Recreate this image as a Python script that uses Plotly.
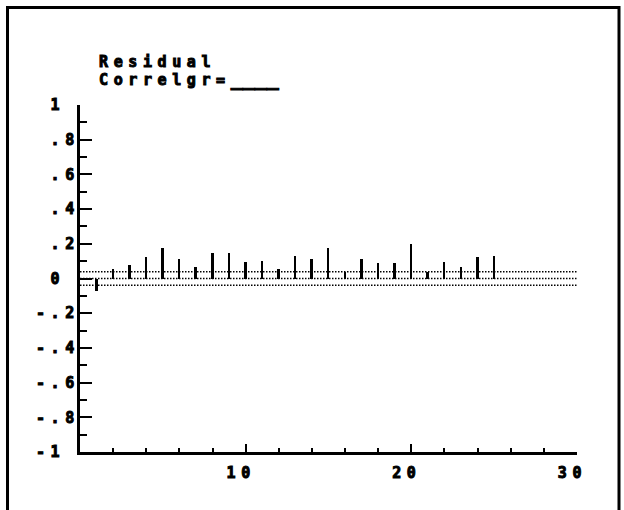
import plotly.graph_objects as go

# ---- data ----
lags = list(range(1, 26))
acf = [-0.072, 0.056, 0.078, 0.122, 0.178, 0.112, 0.064, 0.145, 0.145, 0.097,
       0.099, 0.055, 0.132, 0.112, 0.178, 0.039, 0.112, 0.089, 0.089, 0.199,
       0.036, 0.097, 0.064, 0.122, 0.132]
bound = 0.039          # +/- confidence band (dotted)
x_range = [0, 30]
y_range = [-1, 1]

y_tickvals = [1, 0.8, 0.6, 0.4, 0.2, 0, -0.2, -0.4, -0.6, -0.8, -1]
y_ticklabels = ["1\u00a0", ".8", ".6", ".4", ".2", "0\u00a0", "-.2", "-.4", "-.6", "-.8", "-1\u00a0"]
x_tickvals = [10, 20, 30]
x_ticklabels = ["10\u00a0", "20\u00a0", "30\u00a0"]

title_line1 = "Residual"
title_line2 = "Correlgr="
title_blank = "____"

FONT = "DejaVu Sans Mono"
FS = 15
HEAVY = "stroke:black;stroke-width:1px"
LS = "letter-spacing:5.6px;" + HEAVY


def sp(t, size=None):
    """letter-spaced heavy text, no trailing spacing after the last character"""
    extra = (";font-size:%dpx" % size) if size else ""
    if len(t) <= 1:
        return "<span style='%s%s'>%s</span>" % (HEAVY, extra, t)
    return "<span style='%s%s'>%s</span><span style='%s%s'>%s</span>" % (
        LS, extra, t[:-1], HEAVY, extra, t[-1])


fig = go.Figure()

# dotted band lines and dotted zero line
for yv in (bound, 0, -bound):
    fig.add_trace(go.Scatter(
        x=x_range, y=[yv, yv], mode="lines",
        line=dict(color="black", width=1.3, dash="1.5px,1.5px"),
        hoverinfo="skip", showlegend=False))

fig.add_trace(go.Bar(
    x=lags, y=acf, width=0.12,
    marker=dict(color="black", line=dict(width=0)),
    showlegend=False))

tickfont = dict(family=FONT, size=FS, color="black", weight="bold")

fig.update_xaxes(
    range=x_range, showgrid=False, zeroline=False,
    showline=True, linecolor="black", linewidth=2.5,
    ticks="inside", ticklen=8, tickwidth=2, tickcolor="black",
    tickmode="array", tickvals=x_tickvals, ticktext=[sp(t) for t in x_ticklabels],
    tickfont=tickfont,
    minor=dict(tickmode="linear", tick0=0, dtick=2, ticks="inside",
               ticklen=4, tickwidth=2, tickcolor="black"),
    ticklabelstandoff=5,
)
fig.update_yaxes(
    range=y_range, showgrid=False, zeroline=False,
    showline=True, linecolor="black", linewidth=2.5,
    ticks="inside", ticklen=12, tickwidth=2, tickcolor="black",
    tickmode="array", tickvals=y_tickvals, ticktext=[sp(t) for t in y_ticklabels],
    tickfont=tickfont,
    minor=dict(tickmode="linear", tick0=0, dtick=0.1, ticks="inside",
               ticklen=7, tickwidth=2, tickcolor="black"),
    ticklabelstandoff=0,
)

PL, PR, PT, PB = 80, 47, 105, 58
W, H = 624, 510
pw, ph = W - PL - PR, H - PT - PB


def px_x(p):
    return (p - PL) / pw


def px_y(p):
    return 1 - (p - PT) / ph


title_text = ("<b>" + sp(title_line1, FS) + "<br>"
              + "<span style='%s;font-size:%dpx'>%s</span>" % (LS, FS, title_line2)
              + "<span style='letter-spacing:0px;font-size:20px;%s'>%s</span></b>" % (HEAVY, title_blank))

fig.add_annotation(
    xref="paper", yref="paper", x=px_x(97), y=px_y(71),
    xanchor="left", yanchor="middle", align="left", showarrow=False,
    text=title_text,
    font=dict(family=FONT, size=13.6, color="black"))

# outer frame
fig.add_shape(type="rect", xref="paper", yref="paper",
              x0=px_x(7.5), x1=px_x(619), y0=px_y(530), y1=px_y(7.5),
              line=dict(color="black", width=3), layer="above")

fig.update_layout(
    width=W, height=H, autosize=False,
    margin=dict(l=PL, r=PR, t=PT, b=PB),
    paper_bgcolor="white", plot_bgcolor="white",
    bargap=0, showlegend=False,
)

fig.write_html("out.html")
